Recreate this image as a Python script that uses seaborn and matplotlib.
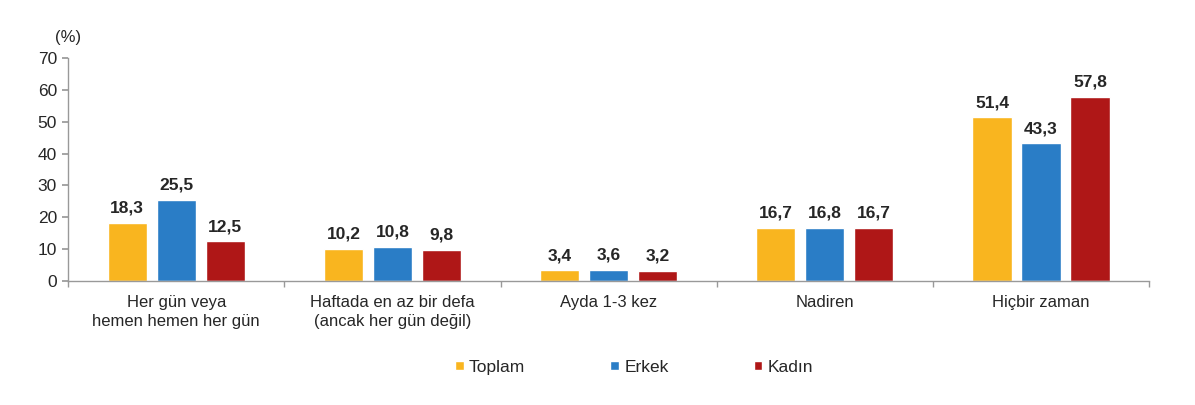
import matplotlib
matplotlib.use("Agg")
import matplotlib.pyplot as plt
import seaborn as sns
import pandas as pd
import numpy as np

categories = ["Her gün veya\nhemen hemen her gün",
              "Haftada en az bir defa\n(ancak her gün değil)",
              "Ayda 1-3 kez",
              "Nadiren",
              "Hiçbir zaman"]
series_names = ["Toplam", "Erkek", "Kadın"]
toplam = [18.3, 10.2, 3.4, 16.7, 51.4]
erkek = [25.5, 10.8, 3.6, 16.8, 43.3]
kadin = [12.5, 9.8, 3.2, 16.7, 57.8]
colors = ["#F9B51F", "#2A7DC6", "#AF1717"]
yticks = [0, 10, 20, 30, 40, 50, 60, 70]

rows = []
for name, vals in zip(series_names, [toplam, erkek, kadin]):
    for c, v in zip(categories, vals):
        rows.append({"kategori": c, "seri": name, "deger": v})
df = pd.DataFrame(rows)

sns.set_theme(style="white")
plt.rcParams['font.family'] = ['Liberation Sans', 'DejaVu Sans']

fig = plt.figure(figsize=(11.95, 4.05), dpi=100)
ax = fig.add_axes([0.057, 0.306, 0.9046, 0.551])

sns.barplot(data=df, x="kategori", y="deger", hue="seri", order=categories,
            hue_order=series_names, palette=colors, width=0.68, gap=0.2,
            saturation=1, ax=ax, legend=True)

for cont in ax.containers:
    labels = [f"{b.get_height():.1f}".replace(".", ",") for b in cont]
    ax.bar_label(cont, labels=labels, padding=5, fontsize=12.5, fontweight="bold",
                 color="#262626")

ax.set_ylim(0, 70)
ax.set_xlim(-0.5, len(categories) - 0.5)
ax.set_yticks(yticks)
ax.set_yticklabels([str(t) for t in yticks], fontsize=12.5, color="#262626")
ax.set_xlabel("")
ax.set_ylabel("")
ax.tick_params(axis="x", length=0, labelsize=12, colors="#262626", pad=10)
for lbl in ax.get_xticklabels():
    lbl.set_linespacing(1.3)
ax.tick_params(axis="y", length=4, color="#999999", direction="out", left=True, pad=4)
ax.set_xticks(np.arange(-0.5, len(categories) + 0.5, 1), minor=True)
ax.tick_params(axis="x", which="minor", length=4, color="#999999", direction="out", bottom=True)

for s in ["top", "right"]:
    ax.spines[s].set_visible(False)
for s in ["left", "bottom"]:
    ax.spines[s].set_color("#999999")
    ax.spines[s].set_linewidth(1)

ax.text(0.0, 1.06, "(%)", transform=ax.transAxes, fontsize=12,
        color="#262626", ha="center", va="bottom")

handles, lbls = ax.get_legend_handles_labels()
ax.legend(handles, lbls, loc="center", bbox_to_anchor=(0.5236, -0.386), ncol=3,
          frameon=False, fontsize=12.5, handlelength=0.5, handleheight=0.5,
          handletextpad=0.3, columnspacing=4.9)

fig.savefig("out.png", dpi=100)
